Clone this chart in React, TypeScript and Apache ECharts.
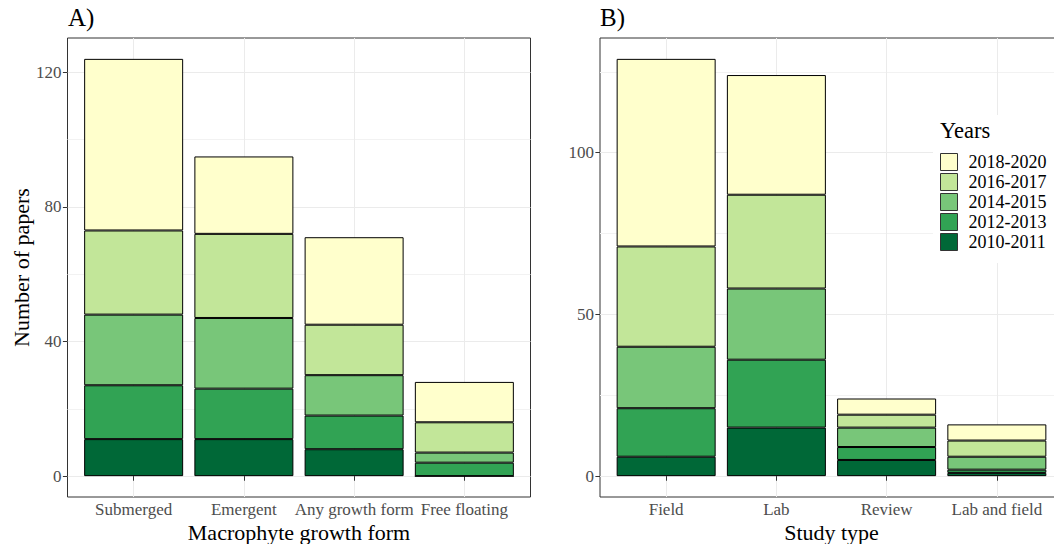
import React, { useEffect, useRef } from "react";
import * as echarts from "echarts";

const years = ["2010-2011", "2012-2013", "2014-2015", "2016-2017", "2018-2020"];
const yearColors = ["#006837", "#31A354", "#78C679", "#C2E699", "#FFFFCC"];

const growthForms = ["Submerged", "Emergent", "Any growth form", "Free floating"];
const growth2010 = [11, 11, 8, 0];
const growth2012 = [16, 15, 10, 4];
const growth2014 = [21, 21, 12, 3];
const growth2016 = [25, 25, 15, 9];
const growth2018 = [51, 23, 26, 12];

const studyTypes = ["Field", "Lab", "Review", "Lab and field"];
const study2010 = [6, 15, 5, 1];
const study2012 = [15, 21, 4, 1];
const study2014 = [19, 22, 6, 4];
const study2016 = [31, 29, 4, 5];
const study2018 = [58, 37, 5, 5];

const majorTicksA = [0, 40, 80, 120];
const minorTicksA = [20, 60, 100];
const majorTicksB = [0, 50, 100];
const minorTicksB = [25, 75, 125];

const FONT = "Liberation Serif";
const catPositions = [1, 2, 3, 4];

function buildPanel(
  idx: number,
  cats: string[],
  seriesData: number[][],
  majors: number[],
  minors: number[],
  xName: string,
  yName: string
) {
  const totals = cats.map((_, i) => seriesData.reduce((s, arr) => s + arr[i], 0));
  const maxT = Math.max(...totals);
  const yMin = -0.05 * maxT;
  const yMax = maxT * 1.05;
  const xAxis = {
    type: "value",
    gridIndex: idx,
    min: 0.4,
    max: 4.6,
    axisLine: { show: false },
    axisTick: { show: true, customValues: catPositions, length: 4.6, lineStyle: { color: "#333333", width: 1 } },
    axisLabel: {
      customValues: catPositions,
      formatter: (v: number) => cats[Math.round(v) - 1] ?? "",
      color: "#4D4D4D",
      fontSize: 17,
      lineHeight: 17,
      fontFamily: FONT,
      margin: 4,
    },
    splitLine: { show: true, lineStyle: { color: "#EBEBEB", width: 1 } },
    name: xName,
    nameLocation: "middle",
    nameGap: 24,
    nameMoveOverlap: false,
    nameTextStyle: { fontSize: 22, lineHeight: 22, color: "#000", fontFamily: FONT },
  };
  const yMajor: any = {
    type: "value",
    gridIndex: idx,
    min: yMin,
    max: yMax,
    position: "left",
    axisLine: { show: false },
    axisTick: { show: true, customValues: majors, length: 4.6, lineStyle: { color: "#333333", width: 1 } },
    axisLabel: { customValues: majors, color: "#4D4D4D", fontSize: 17, fontFamily: FONT, margin: 6 },
    splitLine: { show: true, lineStyle: { color: "#EBEBEB", width: 1 } },
  };
  if (yName) {
    yMajor.name = yName;
    yMajor.nameLocation = "middle";
    yMajor.nameGap = 34;
    yMajor.nameTextStyle = { fontSize: 22, color: "#000", fontFamily: FONT };
  }
  const yMinor = {
    type: "value",
    gridIndex: idx,
    min: yMin,
    max: yMax,
    position: "right",
    axisLine: { show: false },
    axisTick: { show: false, customValues: minors },
    axisLabel: { show: false, customValues: minors },
    splitLine: { show: true, lineStyle: { color: "#F2F2F2", width: 1 } },
  };
  const series = seriesData.map((arr, si) => ({
    type: "bar",
    name: years[si],
    stack: "panel" + idx,
    xAxisIndex: idx,
    yAxisIndex: idx * 2,
    barWidth: 99,
    itemStyle: { color: yearColors[si], borderColor: "#000", borderWidth: 1 },
    dimensions: ["count", "position"],
    encode: { x: "position", y: "count" },
    data: arr.map((v, i) => [v, catPositions[i]]),
    z: 3,
  }));
  return { xAxis, yAxes: [yMajor, yMinor], series };
}

export default function App() {
  const ref = useRef<HTMLDivElement>(null);
  useEffect(() => {
    if (!ref.current) return;
    const chart = echarts.init(ref.current, undefined, { renderer: "svg" });
    const pA = buildPanel(
      0,
      growthForms,
      [growth2010, growth2012, growth2014, growth2016, growth2018],
      majorTicksA,
      minorTicksA,
      "Macrophyte growth form",
      "Number of papers"
    );
    const pB = buildPanel(
      1,
      studyTypes,
      [study2010, study2012, study2014, study2016, study2018],
      majorTicksB,
      minorTicksB,
      "Study type",
      ""
    );
    const option: any = {
      animation: false,
      backgroundColor: "#fff",
      title: [
        { text: "A)", left: 68, top: 5, padding: 0, textStyle: { fontSize: 25, fontWeight: "normal", fontFamily: FONT, color: "#000" } },
        { text: "B)", left: 600, top: 5, padding: 0, textStyle: { fontSize: 25, fontWeight: "normal", fontFamily: FONT, color: "#000" } },
        { text: "Years", left: 940, top: 119, padding: 0, z: 10, textStyle: { fontSize: 22.5, fontWeight: "normal", fontFamily: FONT, color: "#000" } },
      ],
      legend: {
        orient: "vertical",
        left: 933,
        top: 115,
        padding: [38, 30, 12, 7],
        backgroundColor: "#fff",
        icon: "rect",
        itemWidth: 17,
        itemHeight: 17,
        itemGap: 2,
        selectedMode: false,
        data: years.slice().reverse(),
        textStyle: { fontSize: 18, fontFamily: FONT, color: "#000", padding: [0, 0, 0, 6] },
        itemStyle: { borderColor: "#333", borderWidth: 1 },
        z: 8,
      },
      grid: [
        { left: 67.5, top: 38, width: 463, height: 459, show: true, borderColor: "#333333", borderWidth: 1, backgroundColor: "transparent", outerBoundsMode: "none", containLabel: false },
        { left: 600, top: 38, width: 463, height: 459, show: true, borderColor: "#333333", borderWidth: 1, backgroundColor: "transparent", outerBoundsMode: "none", containLabel: false },
      ],
      xAxis: [pA.xAxis, pB.xAxis],
      yAxis: [...pA.yAxes, ...pB.yAxes],
      series: [...pA.series, ...pB.series],
    };
    chart.setOption(option);
    return () => chart.dispose();
  }, []);
  return (
    <div
      ref={ref}
      style={{ position: "absolute", left: 0, top: 0, width: 1054, height: 544 }}
    />
  );
}
